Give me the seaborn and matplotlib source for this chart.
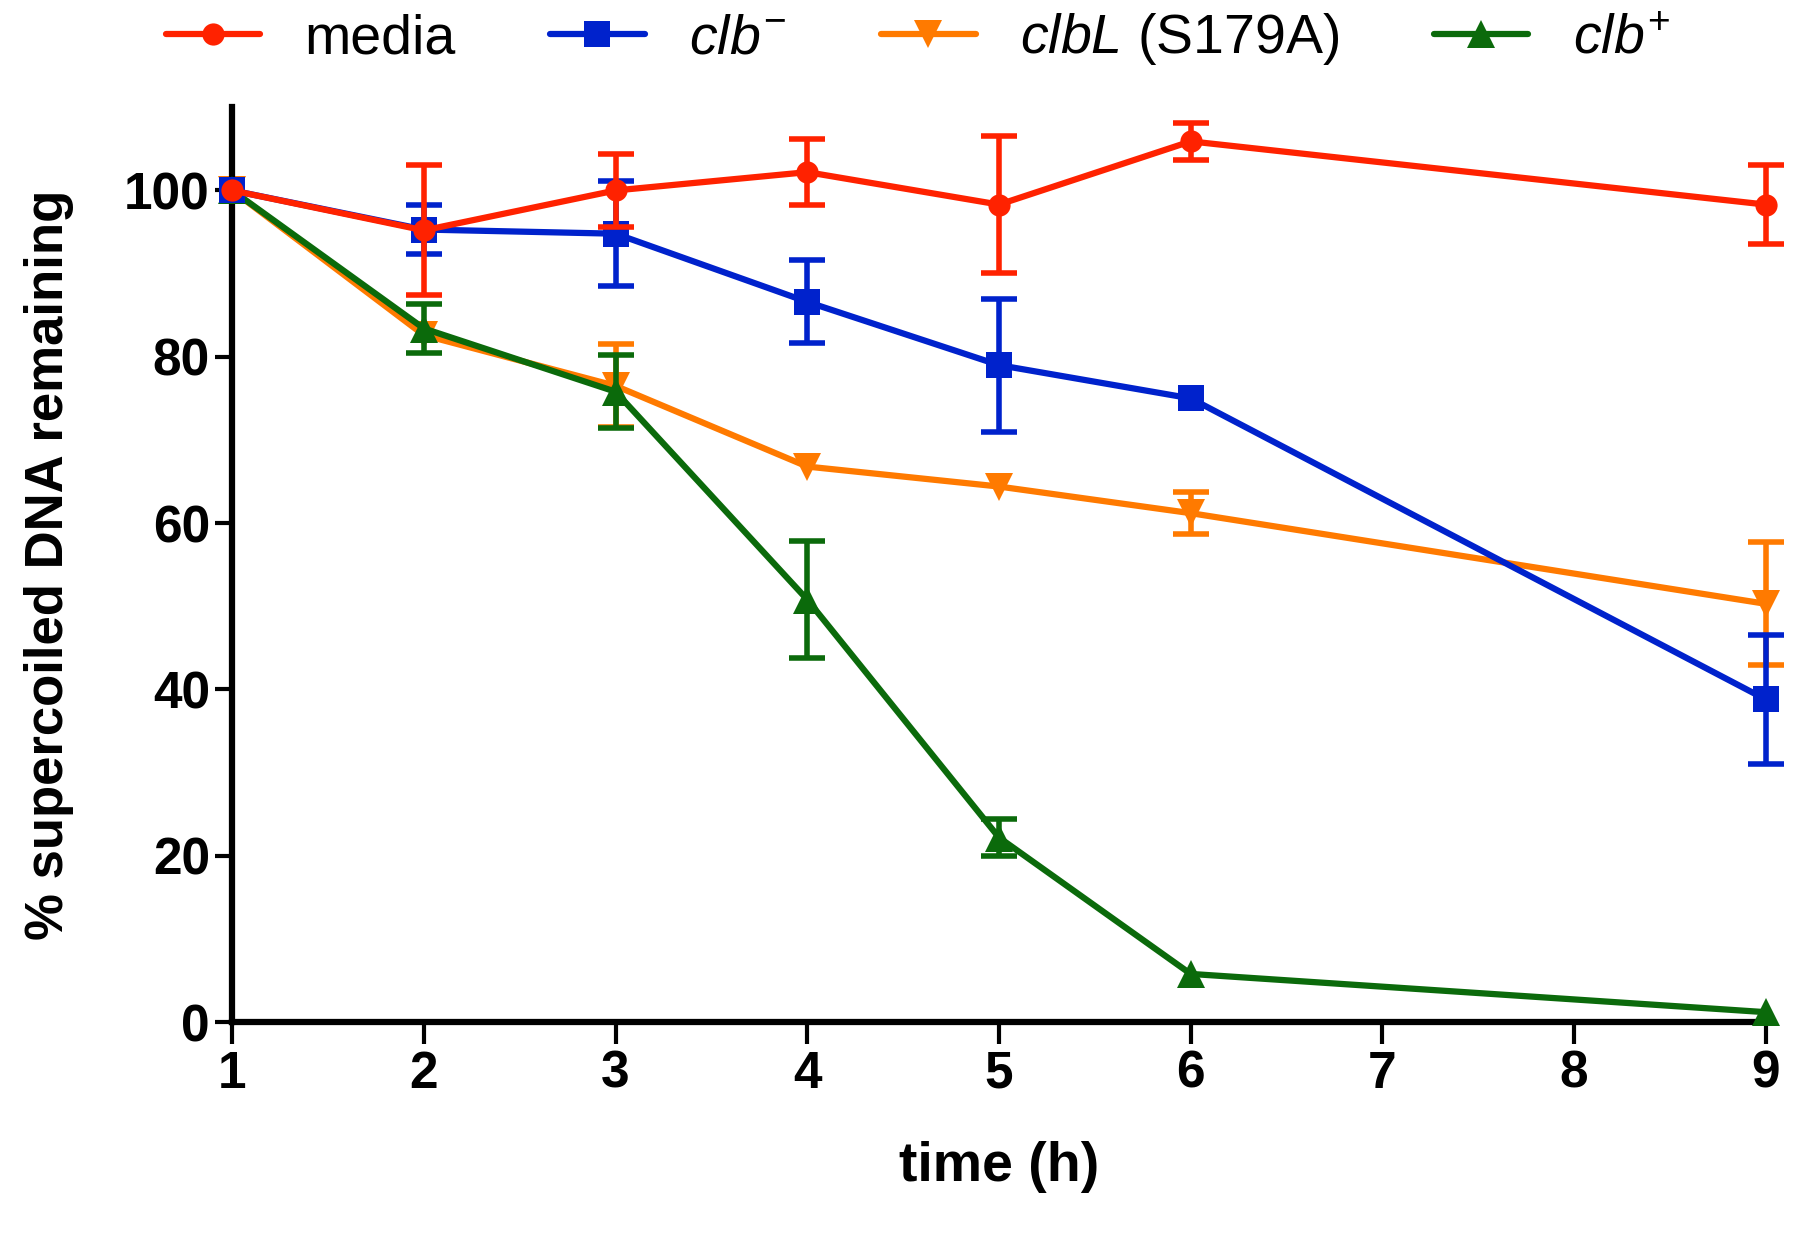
# supercoiled DNA time course
import matplotlib
matplotlib.use("Agg")
import matplotlib.pyplot as plt
import seaborn as sns
import pandas as pd

# -------------------------
# data
# -------------------------
times = [1, 2, 3, 4, 5, 6, 9]

media = [100, 95.2, 100.0, 102.2, 98.3, 105.9, 98.3]
media_err = [0, 7.8, 4.4, 4.0, 8.2, 2.2, 4.7]

clb_minus = [100, 95.3, 94.8, 86.6, 79.0, 75.0, 38.8]
clb_minus_err = [0, 2.9, 6.3, 5.0, 8.0, 0, 7.8]

clbL = [100, 82.6, 76.5, 66.8, 64.4, 61.2, 50.3]
clbL_err = [0, 0, 5.0, 0, 0, 2.5, 7.4]

clb_plus = [100, 83.4, 75.8, 50.8, 22.2, 5.8, 1.2]
clb_plus_err = [0, 3.0, 4.4, 7.0, 2.2, 0, 0]

labels = ["media", r"$\it{clb}^{-}$", r"$\it{clbL}$ (S179A)", r"$\it{clb}^{+}$"]

# -------------------------
# style
# -------------------------
sns.set_style("ticks", {"axes.edgecolor": "black", "text.color": "black",
                        "xtick.color": "black", "ytick.color": "black",
                        "axes.labelcolor": "black"})
plt.rcParams['font.family'] = ['Liberation Sans', 'DejaVu Sans']
plt.rcParams['mathtext.fontset'] = 'custom'
plt.rcParams['mathtext.it'] = 'Liberation Sans:italic'
plt.rcParams['mathtext.rm'] = 'Liberation Sans'

fig = plt.figure(figsize=(18, 12.33), dpi=100)
ax = fig.add_axes([0.129, 0.171, 0.852, 0.742])

series = [
    # values, errors, label, color, marker, size, zorder
    (clbL, clbL_err, labels[2], "#FF7A00", "v", 20, 2),
    (clb_plus, clb_plus_err, labels[3], "#0B6A0B", "^", 20, 3),
    (clb_minus, clb_minus_err, labels[1], "#0022CC", "s", 19, 4),
    (media, media_err, labels[0], "#FF2200", "o", 16, 5),
]

for vals, errs, lab, col, mk, ms, z in series:
    df = pd.DataFrame({"time": times, "value": vals})
    sns.lineplot(data=df, x="time", y="value", color=col, marker=mk,
                 markersize=ms, markeredgewidth=0, linewidth=4.5,
                 label=lab, ax=ax, zorder=z, clip_on=False)
    # only draw bars where the error is visible
    t_e = [t for t, e in zip(times, errs) if e > 0]
    v_e = [v for v, e in zip(vals, errs) if e > 0]
    e_e = [e for e in errs if e > 0]
    ax.errorbar(t_e, v_e, yerr=e_e, fmt="none", ecolor=col,
                elinewidth=4, capsize=13, capthick=4, zorder=z,
                clip_on=False)

ax.set_xlim(1, 9)
ax.set_ylim(0, 110)
ax.set_xticks(range(1, 10))
ax.set_yticks(range(0, 101, 20))
ax.tick_params(axis='x', length=16, width=3, labelsize=37, pad=4)
ax.tick_params(axis='y', length=12, width=3, labelsize=37, pad=4)
for t in ax.get_xticklabels() + ax.get_yticklabels():
    t.set_fontweight('bold')

sns.despine(ax=ax)
ax.spines['left'].set_linewidth(4.5)
ax.spines['bottom'].set_linewidth(4.5)

ax.set_xlabel("time (h)", fontsize=40, fontweight='bold', labelpad=30)
ax.set_ylabel("% supercoiled DNA remaining", fontsize=38, fontweight='bold', labelpad=36)

# legend across the top, in reference order
h, l = ax.get_legend_handles_labels()
order = [l.index(x) for x in labels]
ax.get_legend().remove()
fig.legend([h[i] for i in order], [l[i] for i in order],
           loc='center', bbox_to_anchor=(0.51, 0.968), ncol=4, frameon=False,
           handlelength=1.7, columnspacing=1.7, handletextpad=0.8,
           prop={'weight': 'normal', 'size': 40})

fig.savefig("out.png", dpi=100)
